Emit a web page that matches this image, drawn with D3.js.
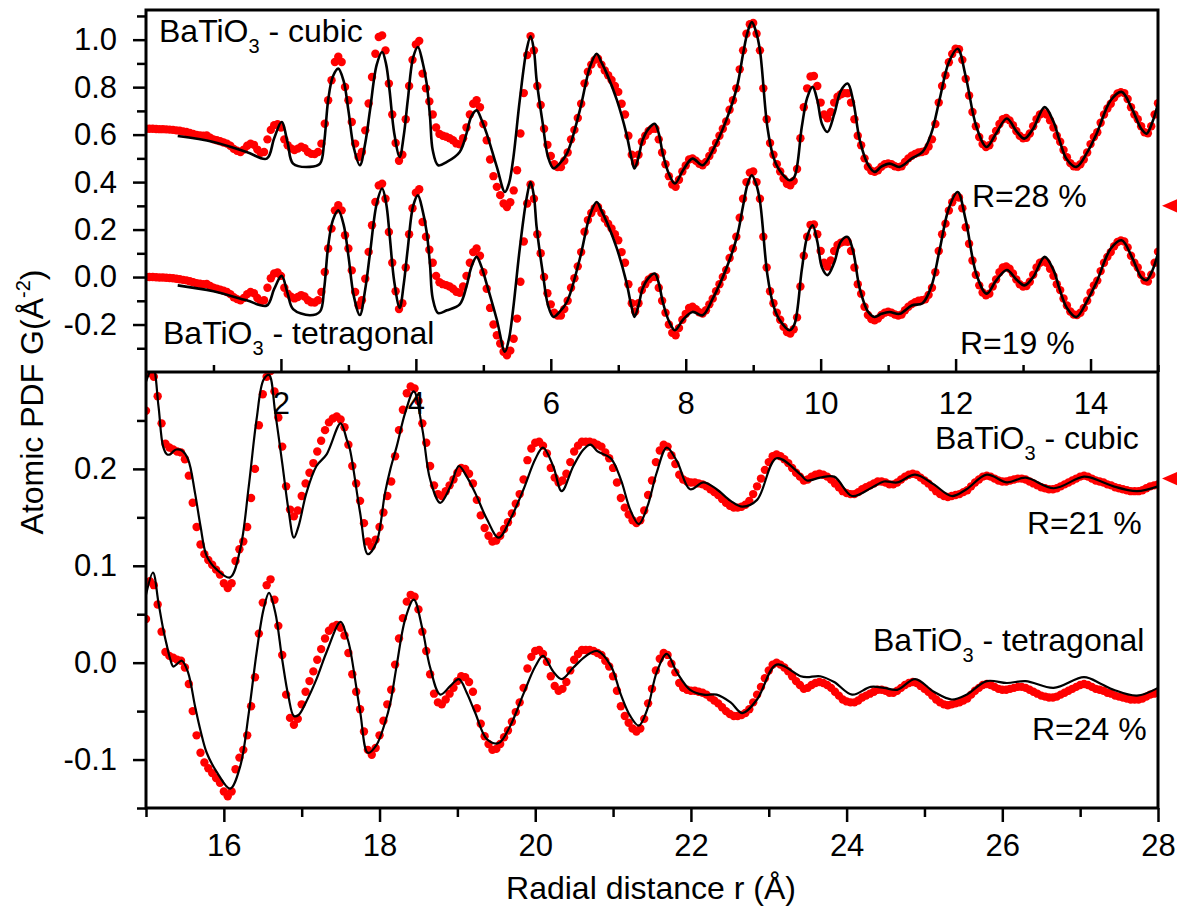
<!DOCTYPE html>
<html>
<head>
<meta charset="utf-8">
<script src="https://cdn.jsdelivr.net/npm/d3@7"></script>
<style>
  body { margin: 0; background: #fff; }
  svg { display: block; }
  text { font-family: "Liberation Sans", Arial, Helvetica, sans-serif; white-space: pre; }
</style>
</head>
<body>
<svg id="chart" width="1177" height="906"></svg>
<script>
// ---------------- data ----------------
// Experimental G(r), 0..15 Å, step 0.05 Å (one row per Å)
const topR0 = 0, topStep = 0.05;
const topExp = [
  0.000, 0.000, 0.000, -0.001, -0.002, -0.002, -0.003, -0.004, -0.005, -0.007, -0.009, -0.012, -0.014, -0.018, -0.022, -0.026, -0.028, -0.030, -0.029, -0.038,
  -0.045, -0.049, -0.053, -0.058, -0.063, -0.072, -0.085, -0.093, -0.098, -0.088, -0.072, -0.063, -0.068, -0.088, -0.102, -0.098, -0.045, -0.005, 0.015, 0.019,
  0.005, -0.045, -0.070, -0.083, -0.090, -0.084, -0.076, -0.082, -0.098, -0.106, -0.107, -0.098, -0.063, 0.021, 0.120, 0.204, 0.281, 0.303, 0.281, 0.176,
  0.120, 0.028, -0.063, -0.119, -0.098, -0.007, 0.106, 0.218, 0.316, 0.386, 0.393, 0.330, 0.190, 0.060, -0.060, -0.135, -0.110, 0.040, 0.180, 0.290,
  0.355, 0.370, 0.232, 0.170, 0.115, 0.060, 0.005, -0.022, -0.030, -0.034, -0.040, -0.049, -0.062, -0.066, -0.040, 0.005, 0.060, 0.105, 0.120, 0.090,
  0.020, -0.049, -0.130, -0.200, -0.245, -0.280, -0.315, -0.330, -0.310, -0.260, -0.175, -0.020, 0.150, 0.310, 0.390, 0.330, 0.180, 0.100, 0.000, -0.068,
  -0.115, -0.150, -0.162, -0.162, -0.135, -0.100, -0.045, -0.005, 0.045, 0.105, 0.191, 0.240, 0.270, 0.290, 0.295, 0.270, 0.245, 0.225, 0.205, 0.180,
  0.155, 0.105, 0.060, -0.030, -0.110, -0.145, -0.110, -0.055, -0.030, -0.010, 0.000, 0.000, -0.045, -0.100, -0.150, -0.200, -0.235, -0.245, -0.215, -0.180,
  -0.155, -0.130, -0.125, -0.135, -0.148, -0.154, -0.140, -0.115, -0.091, -0.060, -0.030, 0.000, 0.030, 0.080, 0.120, 0.170, 0.250, 0.330, 0.400, 0.440,
  0.445, 0.400, 0.330, 0.170, 0.040, -0.060, -0.110, -0.150, -0.180, -0.210, -0.232, -0.238, -0.220, -0.170, -0.040, 0.090, 0.170, 0.220, 0.222, 0.180,
  0.110, 0.060, 0.044, 0.070, 0.110, 0.135, 0.145, 0.150, 0.149, 0.110, 0.040, -0.030, -0.070, -0.125, -0.160, -0.177, -0.182, -0.175, -0.160, -0.150,
  -0.146, -0.150, -0.158, -0.162, -0.158, -0.140, -0.125, -0.114, -0.106, -0.100, -0.098, -0.094, -0.075, -0.045, 0.020, 0.110, 0.180, 0.225, 0.280, 0.315,
  0.337, 0.335, 0.290, 0.210, 0.140, 0.070, 0.010, -0.035, -0.065, -0.077, -0.070, -0.040, -0.010, 0.020, 0.040, 0.045, 0.035, 0.015, -0.010, -0.030,
  -0.040, -0.038, -0.020, 0.010, 0.040, 0.060, 0.066, 0.060, 0.035, 0.005, -0.030, -0.055, -0.090, -0.120, -0.145, -0.158, -0.160, -0.150, -0.130, -0.100,
  -0.065, -0.035, -0.015, 0.025, 0.060, 0.085, 0.105, 0.130, 0.148, 0.154, 0.150, 0.125, 0.090, 0.060, 0.040, 0.010, -0.015, -0.019, 0.010, 0.060,
  0.107
];

// Model fits, 0..15 Å (knots in r, G)
const topFitR = [
  0.47, 1.0, 1.49, 1.79, 1.9, 2.01, 2.1, 2.18, 2.43, 2.58,
  2.64, 2.7, 2.77, 2.85, 2.93, 3.0, 3.08, 3.17, 3.25, 3.32,
  3.42, 3.5, 3.56, 3.61, 3.68, 3.76, 3.82, 3.88, 3.96, 4.03,
  4.1, 4.16, 4.21, 4.25, 4.33, 4.46, 4.65, 4.75, 4.82, 4.9,
  4.97, 5.05, 5.2, 5.32, 5.38, 5.44, 5.54, 5.64, 5.7, 5.75,
  5.79, 5.88, 5.96, 6.04, 6.12, 6.24, 6.43, 6.58, 6.68, 6.75,
  6.83, 6.98, 7.12, 7.2, 7.24, 7.3, 7.36, 7.45, 7.54, 7.6,
  7.66, 7.75, 7.84, 7.96, 8.1, 8.25, 8.4, 8.6, 8.76, 8.85,
  8.92, 8.98, 9.04, 9.1, 9.21, 9.3, 9.39, 9.54, 9.61, 9.72,
  9.8, 9.88, 9.95, 10.02, 10.1, 10.2, 10.3, 10.4, 10.48, 10.58,
  10.7, 10.8, 10.9, 11.02, 11.17, 11.35, 11.51, 11.64, 11.76, 11.9,
  12.03, 12.15, 12.31, 12.46, 12.6, 12.76, 12.9, 13.02, 13.15, 13.32,
  13.45, 13.54, 13.65, 13.79, 13.95, 14.09, 14.3, 14.46, 14.62, 14.75,
  14.83, 14.92, 15.0
];
const topFitCubic = [
  -0.031, -0.056, -0.098, -0.126, -0.040, 0.028, -0.060, -0.147, -0.161, -0.147,
  -0.060, 0.120, 0.220, 0.253, 0.200, 0.077, -0.080, -0.154, -0.060, 0.077,
  0.270, 0.323, 0.270, 0.162, -0.020, -0.119, -0.030, 0.120, 0.300, 0.344,
  0.280, 0.191, 0.049, -0.091, -0.154, -0.140, -0.098, -0.021, 0.050, 0.077,
  0.040, -0.021, -0.161, -0.267, -0.230, -0.133, 0.120, 0.330, 0.389, 0.330,
  0.204, 0.023, -0.120, -0.167, -0.150, -0.104, 0.077, 0.260, 0.316, 0.280,
  0.232, 0.120, -0.021, -0.130, -0.168, -0.120, -0.049, 0.000, 0.021, -0.020,
  -0.105, -0.190, -0.231, -0.175, -0.126, -0.154, -0.091, 0.035, 0.176, 0.316,
  0.410, 0.449, 0.410, 0.330, 0.007, -0.120, -0.175, -0.217, -0.203, 0.007,
  0.130, 0.176, 0.120, 0.020, -0.014, 0.060, 0.160, 0.190, 0.120, -0.049,
  -0.150, -0.182, -0.160, -0.147, -0.161, -0.125, -0.098, -0.020, 0.120, 0.280,
  0.337, 0.220, 0.007, -0.077, -0.020, 0.043, -0.010, -0.042, 0.000, 0.091,
  0.030, -0.049, -0.130, -0.161, -0.100, -0.021, 0.120, 0.155, 0.080, 0.000,
  -0.021, 0.030, 0.106
];
const topFitTetra = [
  -0.035, -0.060, -0.098, -0.120, -0.050, 0.005, -0.070, -0.135, -0.161, -0.145,
  -0.050, 0.130, 0.240, 0.281, 0.220, 0.090, -0.080, -0.160, -0.050, 0.100,
  0.310, 0.373, 0.310, 0.180, -0.020, -0.130, -0.030, 0.120, 0.300, 0.344,
  0.280, 0.190, 0.050, -0.090, -0.152, -0.140, -0.115, -0.040, 0.040, 0.085,
  0.045, -0.030, -0.180, -0.315, -0.260, -0.140, 0.120, 0.330, 0.400, 0.340,
  0.210, 0.020, -0.120, -0.168, -0.150, -0.104, 0.077, 0.260, 0.316, 0.280,
  0.232, 0.120, -0.021, -0.130, -0.168, -0.120, -0.049, -0.003, 0.015, -0.025,
  -0.105, -0.185, -0.224, -0.180, -0.147, -0.161, -0.091, 0.035, 0.170, 0.300,
  0.395, 0.429, 0.395, 0.320, 0.010, -0.120, -0.180, -0.224, -0.200, 0.030,
  0.170, 0.218, 0.150, 0.040, 0.008, 0.060, 0.150, 0.169, 0.110, -0.050,
  -0.145, -0.168, -0.155, -0.147, -0.155, -0.120, -0.110, -0.040, 0.110, 0.290,
  0.358, 0.240, 0.010, -0.070, -0.015, 0.030, -0.010, -0.035, 0.000, 0.085,
  0.030, -0.050, -0.130, -0.168, -0.100, -0.021, 0.120, 0.155, 0.080, 0.000,
  -0.013, 0.030, 0.100
];

// Experimental G(r), 15..28 Å, step 0.05 Å (one row per Å)
const bottomR0 = 15, bottomStep = 0.05;
const bottomExp = [
  0.045, 0.084, 0.080, 0.060, 0.032, 0.011, 0.007, 0.005, 0.003, 0.002, -0.005, -0.022, -0.050, -0.075, -0.093, -0.103, -0.109, -0.114, -0.119, -0.124,
  -0.133, -0.138, -0.133, -0.110, -0.098, -0.090, -0.075, -0.045, -0.015, 0.030, 0.062, 0.080, 0.086, 0.065, 0.038, 0.008, -0.033, -0.057, -0.064, -0.058,
  -0.043, -0.030, -0.019, -0.009, 0.003, 0.014, 0.025, 0.033, 0.037, 0.039, 0.036, 0.028, 0.010, -0.012, -0.030, -0.048, -0.071, -0.090, -0.095, -0.088,
  -0.075, -0.060, -0.043, -0.028, -0.002, 0.025, 0.046, 0.063, 0.070, 0.068, 0.055, 0.032, 0.012, -0.012, -0.032, -0.041, -0.043, -0.038, -0.032, -0.026,
  -0.019, -0.014, -0.015, -0.020, -0.030, -0.047, -0.063, -0.076, -0.084, -0.090, -0.089, -0.084, -0.077, -0.070, -0.061, -0.051, -0.041, -0.026, -0.006, 0.006,
  0.012, 0.013, 0.009, 0.001, -0.014, -0.024, -0.029, -0.027, -0.020, -0.008, 0.003, 0.009, 0.013, 0.013, 0.013, 0.012, 0.010, 0.008, 0.002, -0.004,
  -0.014, -0.029, -0.045, -0.055, -0.062, -0.068, -0.071, -0.068, -0.058, -0.042, -0.027, -0.008, 0.004, 0.010, 0.008, -0.001, -0.010, -0.021, -0.026, -0.028,
  -0.029, -0.029, -0.030, -0.031, -0.033, -0.036, -0.039, -0.042, -0.046, -0.050, -0.053, -0.055, -0.055, -0.054, -0.052, -0.048, -0.041, -0.033, -0.025, -0.016,
  -0.008, -0.002, 0.000, -0.002, -0.005, -0.009, -0.014, -0.019, -0.023, -0.027, -0.026, -0.023, -0.021, -0.020, -0.021, -0.023, -0.026, -0.030, -0.034, -0.038,
  -0.040, -0.041, -0.041, -0.039, -0.036, -0.034, -0.032, -0.030, -0.028, -0.028, -0.029, -0.031, -0.031, -0.029, -0.026, -0.023, -0.021, -0.020, -0.021, -0.024,
  -0.027, -0.030, -0.034, -0.038, -0.041, -0.043, -0.044, -0.043, -0.042, -0.041, -0.039, -0.037, -0.033, -0.029, -0.026, -0.023, -0.022, -0.023, -0.025, -0.027,
  -0.028, -0.028, -0.027, -0.026, -0.025, -0.025, -0.026, -0.028, -0.030, -0.032, -0.034, -0.035, -0.036, -0.036, -0.035, -0.033, -0.031, -0.029, -0.027, -0.025,
  -0.023, -0.022, -0.023, -0.025, -0.027, -0.028, -0.029, -0.031, -0.032, -0.034, -0.035, -0.036, -0.037, -0.038, -0.038, -0.038, -0.037, -0.035, -0.033, -0.032,
  -0.031
];

// Model fits, 15..28 Å (knots in r, G)
const bottomFitR = [
  15.00, 15.09, 15.16, 15.22, 15.27, 15.31, 15.35, 15.39, 15.46, 15.54,
  15.63, 15.70, 15.78, 15.91, 16.08, 16.21, 16.32, 16.42, 16.51, 16.58,
  16.66, 16.75, 16.83, 16.90, 16.96, 17.06, 17.19, 17.32, 17.50, 17.58,
  17.62, 17.75, 17.85, 17.96, 18.07, 18.14, 18.22, 18.33, 18.44, 18.55,
  18.65, 18.78, 18.91, 19.02, 19.12, 19.23, 19.38, 19.53, 19.68, 19.85,
  20.00, 20.10, 20.23, 20.34, 20.49, 20.62, 20.71, 20.80, 20.97, 21.10,
  21.22, 21.33, 21.44, 21.56, 21.69, 21.82, 21.99, 22.16, 22.33, 22.51,
  22.66, 22.85, 23.10, 23.41, 23.49, 23.66, 23.84, 24.07, 24.31, 24.48,
  24.65, 24.88, 25.12, 25.35, 25.54, 25.80, 26.06, 26.30, 26.66, 27.05,
  27.27, 27.43, 27.73, 28.00
];
const bottomFitCubic = [
  0.075, 0.090, 0.050, 0.008, 0.000, 0.000, 0.003, 0.005, 0.004, -0.005,
  -0.040, -0.074, -0.105, -0.119, -0.127, -0.098, -0.033, 0.036, 0.077, 0.082,
  0.043, -0.009, -0.057, -0.086, -0.074, -0.040, -0.012, 0.000, 0.032, 0.015,
  0.005, -0.060, -0.103, -0.091, -0.040, -0.015, 0.008, 0.043, 0.065, 0.026,
  -0.026, -0.050, -0.033, -0.012, -0.023, -0.040, -0.067, -0.086, -0.067, -0.036,
  -0.005, 0.007, -0.012, -0.038, -0.012, 0.005, 0.010, 0.003, -0.004, -0.026,
  -0.057, -0.072, -0.054, -0.019, 0.007, -0.007, -0.036, -0.029, -0.036, -0.048,
  -0.054, -0.047, -0.004, -0.021, -0.027, -0.024, -0.023, -0.043, -0.035, -0.028,
  -0.029, -0.021, -0.031, -0.043, -0.036, -0.021, -0.029, -0.024, -0.035, -0.023,
  -0.028, -0.033, -0.038, -0.033
];
const bottomFitTetra = [
  0.070, 0.093, 0.062, 0.035, 0.017, 0.004, -0.004, -0.002, 0.002, -0.010,
  -0.045, -0.070, -0.093, -0.113, -0.130, -0.107, -0.052, 0.010, 0.055, 0.072,
  0.052, 0.003, -0.035, -0.055, -0.054, -0.040, -0.017, 0.011, 0.042, 0.027,
  0.015, -0.050, -0.093, -0.085, -0.062, -0.041, -0.003, 0.045, 0.065, 0.035,
  -0.005, -0.033, -0.024, -0.017, -0.031, -0.052, -0.079, -0.083, -0.065, -0.032,
  -0.004, 0.007, -0.009, -0.017, -0.005, 0.005, 0.010, 0.012, -0.003, -0.033,
  -0.055, -0.065, -0.048, -0.010, 0.009, -0.010, -0.028, -0.033, -0.033, -0.041,
  -0.052, -0.038, -0.002, -0.014, -0.015, -0.014, -0.020, -0.033, -0.025, -0.026,
  -0.028, -0.017, -0.030, -0.038, -0.033, -0.019, -0.021, -0.019, -0.026, -0.015,
  -0.022, -0.028, -0.034, -0.026
];

// vertical shift applied to the cubic curves in each panel
const topCubicShift = 0.625;
const bottomCubicShift = 0.215;

// red edge markers (G value on each panel)
const topMarker = 0.30;
const bottomMarker = 0.19;

// axis ticks
const topXMajor = [2, 4, 6, 8, 10, 12, 14];
const topXMinor = [1, 3, 5, 7, 9, 11, 13, 15];
const topYMajor = [-0.2, 0.0, 0.2, 0.4, 0.6, 0.8, 1.0];
const topYMinor = [-0.3, -0.1, 0.1, 0.3, 0.5, 0.7, 0.9, 1.1];
const bottomXMajor = [16, 18, 20, 22, 24, 26, 28];
const bottomXMinor = [15, 17, 19, 21, 23, 25, 27];
const bottomYMajor = [-0.1, 0.0, 0.1, 0.2];
const bottomYMinor = [-0.15, -0.05, 0.05, 0.15, 0.25];

// ---------------- layout ----------------
const FONT = '"Liberation Sans", Arial, Helvetica, sans-serif';
const left = 146, right = 1158;
const topPanel = { y0: 10, y1: 372 };
const botPanel = { y0: 372, y1: 808 };
const RED = "#ff0000";
const DOT_R = 4.2;

const svg = d3.select("#chart");

const xTop = d3.scaleLinear().domain([0, 15]).range([left, right]);
const yTop = d3.scaleLinear().domain([-0.4, 1.125]).range([topPanel.y1, topPanel.y0]);
const xBot = d3.scaleLinear().domain([15, 28]).range([left, right]);
const yBot = d3.scaleLinear().domain([-0.15, 0.30]).range([botPanel.y1, botPanel.y0]);

const defs = svg.append("defs");
defs.append("clipPath").attr("id", "clipTop").append("rect")
  .attr("x", left).attr("y", topPanel.y0).attr("width", right - left).attr("height", topPanel.y1 - topPanel.y0);
defs.append("clipPath").attr("id", "clipBot").append("rect")
  .attr("x", left).attr("y", botPanel.y0).attr("width", right - left).attr("height", botPanel.y1 - botPanel.y0);

function drawDots(g, x, y, r0, step, values, shift) {
  const pts = values.map((v, i) => ({ r: r0 + i * step, g: v + shift }));
  g.append("g").selectAll("circle").data(pts).join("circle")
    .attr("cx", d => x(d.r)).attr("cy", d => y(d.g))
    .attr("r", DOT_R).attr("fill", RED);
}

function drawFit(g, x, y, rs, values, shift, width) {
  const line = d3.line()
    .x((d, i) => x(rs[i]))
    .y(d => y(d + shift))
    .curve(d3.curveCatmullRom.alpha(0.5));
  g.append("path").attr("d", line(values))
    .attr("fill", "none").attr("stroke", "#000")
    .attr("stroke-width", width).attr("stroke-linejoin", "round");
}

// top panel (0-15 Å)
const gTop = svg.append("g").attr("clip-path", "url(#clipTop)");
drawDots(gTop, xTop, yTop, topR0, topStep, topExp, topCubicShift);
drawDots(gTop, xTop, yTop, topR0, topStep, topExp, 0);
drawFit(gTop, xTop, yTop, topFitR, topFitCubic, topCubicShift, 2.6);
drawFit(gTop, xTop, yTop, topFitR, topFitTetra, 0, 2.6);

// bottom panel (15-28 Å)
const gBot = svg.append("g").attr("clip-path", "url(#clipBot)");
drawDots(gBot, xBot, yBot, bottomR0, bottomStep, bottomExp, bottomCubicShift);
drawDots(gBot, xBot, yBot, bottomR0, bottomStep, bottomExp, 0);
drawFit(gBot, xBot, yBot, bottomFitR, bottomFitCubic, bottomCubicShift, 2.2);
drawFit(gBot, xBot, yBot, bottomFitR, bottomFitTetra, 0, 2.2);

// ---------------- axes ----------------
function styleAxis(sel) {
  sel.attr("font-size", 31).attr("font-family", FONT);
  sel.select(".domain").remove();
  sel.selectAll(".tick line").attr("stroke", "#000").attr("stroke-width", 2.5);
  sel.selectAll(".tick text").attr("fill", "#000");
}
const fmt = d => d.toFixed(1);

// y axes
svg.append("g").attr("transform", `translate(${left},0)`)
  .call(d3.axisLeft(yTop).tickValues(topYMajor).tickSizeInner(13).tickSizeOuter(0).tickPadding(16).tickFormat(fmt))
  .call(styleAxis);
svg.append("g").attr("transform", `translate(${left},0)`)
  .call(d3.axisLeft(yTop).tickValues(topYMinor).tickSizeInner(9).tickSizeOuter(0).tickFormat(""))
  .call(styleAxis);
svg.append("g").attr("transform", `translate(${left},0)`)
  .call(d3.axisLeft(yBot).tickValues(bottomYMajor).tickSizeInner(13).tickSizeOuter(0).tickPadding(16).tickFormat(fmt))
  .call(styleAxis);
svg.append("g").attr("transform", `translate(${left},0)`)
  .call(d3.axisLeft(yBot).tickValues(bottomYMinor).tickSizeInner(9).tickSizeOuter(0).tickFormat(""))
  .call(styleAxis);

// x axis of the top panel: ticks point up, labels sit below the divider
svg.append("g").attr("transform", `translate(0,${topPanel.y1})`)
  .call(d3.axisBottom(xTop).tickValues(topXMajor).tickSizeInner(-13).tickSizeOuter(0).tickPadding(20).tickFormat(d3.format("d")))
  .call(styleAxis);
svg.append("g").attr("transform", `translate(0,${topPanel.y1})`)
  .call(d3.axisBottom(xTop).tickValues(topXMinor).tickSizeInner(-7).tickSizeOuter(0).tickFormat(""))
  .call(styleAxis);

// x axis of the bottom panel
svg.append("g").attr("transform", `translate(0,${botPanel.y1})`)
  .call(d3.axisBottom(xBot).tickValues(bottomXMajor).tickSizeInner(14).tickSizeOuter(0).tickPadding(12).tickFormat(d3.format("d")))
  .call(styleAxis);
svg.append("g").attr("transform", `translate(0,${botPanel.y1})`)
  .call(d3.axisBottom(xBot).tickValues(bottomXMinor).tickSizeInner(9).tickSizeOuter(0).tickFormat(""))
  .call(styleAxis);

// frame
const frame = svg.append("g").attr("stroke", "#000").attr("stroke-width", 3).attr("fill", "none");
frame.append("path").attr("d", `M${left},${botPanel.y1}V${topPanel.y0}H${right}V${botPanel.y1}Z`).attr("stroke-linejoin", "miter");
frame.append("line").attr("x1", left).attr("x2", right).attr("y1", topPanel.y1).attr("y2", topPanel.y1);

// red edge markers
function marker(yPos) {
  const tipX = right + 4, baseX = right + 22, h = 8;
  svg.append("path")
    .attr("d", `M${tipX},${yPos}L${baseX},${yPos - h}L${baseX},${yPos + h}Z`)
    .attr("fill", RED);
}
marker(yTop(topMarker));
marker(yBot(bottomMarker));

// ---------------- text ----------------
function phaseLabel(x, y, phase) {
  const t = svg.append("text").attr("x", x).attr("y", y).attr("font-size", 32).attr("fill", "#000");
  t.append("tspan").text("BaTiO");
  t.append("tspan").attr("font-size", 20).attr("dy", 11).text("3");
  t.append("tspan").attr("dy", -11).text(" - " + phase);
}
function plainLabel(x, y, s) {
  svg.append("text").attr("x", x).attr("y", y).attr("font-size", 32).attr("fill", "#000").text(s);
}

phaseLabel(159, 42, "cubic");
phaseLabel(163, 344, "tetragonal");
plainLabel(972, 207, "R=28 %");
plainLabel(960, 354, "R=19 %");
phaseLabel(935, 449, "cubic");
plainLabel(1027, 534, "R=21 %");
phaseLabel(873, 651, "tetragonal");
plainLabel(1032, 740, "R=24 %");

// axis titles
svg.append("text").attr("x", 651).attr("y", 899).attr("text-anchor", "middle")
  .attr("font-size", 32).attr("fill", "#000").text("Radial distance r (Å)");

const yTitle = svg.append("text").attr("transform", "translate(43,402) rotate(-90)")
  .attr("text-anchor", "middle").attr("font-size", 32).attr("fill", "#000");
yTitle.append("tspan").text("Atomic PDF G(Å");
yTitle.append("tspan").attr("font-size", 20).attr("dy", -13).text("-2");
yTitle.append("tspan").attr("dy", 13).text(")");
</script>
</body>
</html>
